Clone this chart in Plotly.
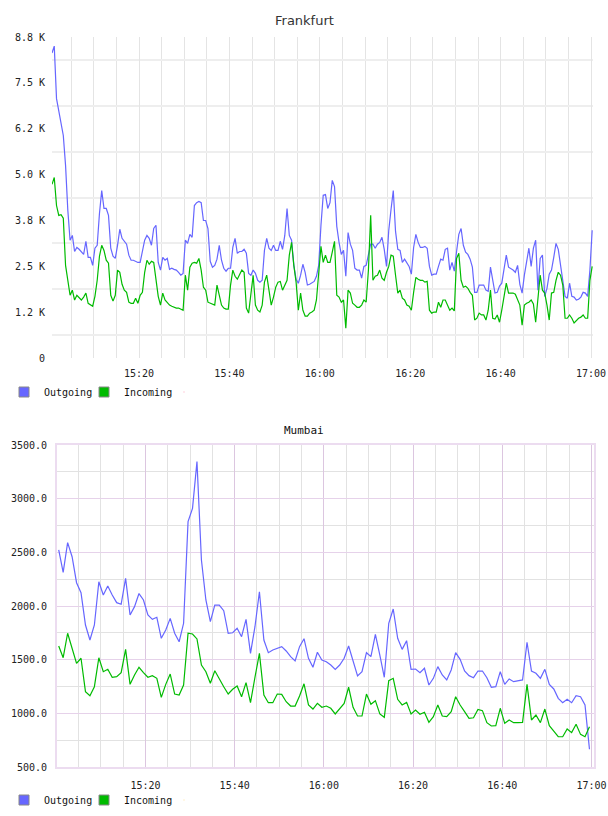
import pandas as pd
import plotly.graph_objects as go

# ---------------- data ----------------
# Frankfurt: 30-second samples
fra_times = pd.date_range("2024-01-01 15:00:45", periods=240, freq="30s")
fra_outgoing = [
    8360, 8550, 7110, 6780, 6450, 6100, 5280, 4050, 3230, 3360,
    2920, 3030, 2980, 2900, 2840, 3200, 2760, 2760, 2540, 3010,
    3090, 3960, 4590, 4100, 4100, 3910, 3010, 2790, 2730, 3090,
    3530, 3280, 3200, 3120, 2820, 2680, 2680, 2650, 2620, 2620,
    2900, 3230, 3360, 3280, 3090, 3550, 3640, 2620, 2410, 2760,
    2680, 2730, 2430, 2460, 2430, 2410, 2350, 2270, 2320, 3230,
    3140, 3390, 3310, 4180, 4260, 4290, 4260, 3770, 3770, 3550,
    2650, 2490, 2540, 2710, 3090, 2680, 2460, 2380, 2460, 2460,
    3030, 3280, 2870, 2920, 2920, 2980, 2870, 2320, 2270, 2410,
    2320, 2130, 2080, 2130, 2950, 3280, 3010, 2950, 3090, 2950,
    2950, 3200, 2980, 3360, 4100, 3360, 3230, 2540, 2160, 2050,
    2270, 2570, 2350, 2000, 2020, 2050, 2100, 2240, 2540, 3640,
    4460, 4480, 4100, 4260, 4870, 4700, 3610, 3170, 2840, 2950,
    2240, 3440, 3120, 2950, 2460, 2410, 2410, 2190, 2510, 2540,
    2840, 3120, 3120, 3010, 3120, 3170, 3310, 2980, 2510, 3500,
    4070, 4590, 3470, 2980, 2950, 2620, 2710, 2600, 2510, 2300,
    3030, 3390, 3170, 3030, 3030, 3060, 3010, 2510, 2270, 2300,
    2300, 2510, 2710, 2680, 2980, 3010, 2410, 2620, 2380, 2920,
    3390, 3550, 3090, 2900, 2840, 2710, 2490, 1800, 1800, 2000,
    2000, 2000, 1860, 1830, 2490, 2080, 1780, 1800, 1970, 2050,
    2510, 2820, 2490, 2460, 2410, 2350, 2540, 2020, 1780, 2270,
    2620, 3010, 2510, 3010, 3230, 1860, 2730, 2820, 1690, 1910,
    2300, 2410, 2760, 3140, 2980, 2570, 2190, 1690, 1640, 2050,
    1690, 1670, 1590, 1610, 1670, 1800, 1780, 1690, 2410, 3500,
]
fra_incoming = [
    4760, 4950, 4180, 3910, 3930, 3830, 2540, 2050, 1720, 1860,
    1590, 1720, 1640, 1590, 1670, 1780, 1500, 1450, 1420, 1690,
    2130, 2790, 3090, 2950, 2680, 2600, 1720, 1560, 1720, 2410,
    2350, 2020, 1860, 1800, 1530, 1500, 1500, 1640, 1500, 1720,
    1800, 2350, 2680, 2570, 2650, 2620, 2080, 1690, 1450, 1780,
    1590, 1530, 1450, 1420, 1390, 1370, 1370, 1340, 1310, 2270,
    1860, 2490, 2600, 2620, 2600, 2730, 2410, 1940, 1860, 1530,
    1500, 1480, 1450, 2000, 1720, 1450, 1370, 1340, 1340, 2000,
    2410, 2240, 2160, 2300, 2410, 2350, 1370, 1230, 1750, 2270,
    1450, 1310, 1260, 1450, 2080, 2270, 1860, 1450, 1670, 1940,
    2080, 2100, 1860, 2020, 2130, 2820, 3170, 2540, 2080, 1310,
    1780, 1310, 1150, 1150, 1230, 1260, 1310, 1590, 2410, 3060,
    2620, 2820, 2620, 2620, 2900, 3200, 1720, 1670, 1530, 1590,
    820, 1860, 1780, 1500, 1450, 1390, 1390, 1450, 1590, 1530,
    2410, 3910, 2130, 2240, 2270, 2410, 2190, 2130, 2350, 2510,
    2820, 2790, 2270, 1780, 1860, 1640, 1590, 1450, 1420, 1310,
    1800, 2210, 2160, 2130, 2130, 2080, 2100, 1310, 1230, 1260,
    1260, 1530, 1390, 1590, 1590, 1450, 1310, 1370, 1290, 2730,
    2870, 2130, 1940, 1970, 1910, 1800, 1720, 1040, 1090, 1230,
    1180, 1180, 1040, 1310, 1860, 1090, 1070, 1180, 980, 1310,
    1690, 2050, 1780, 1780, 1780, 1750, 1590, 1450, 900, 1450,
    1500, 1530, 1590, 1480, 980, 1720, 2270, 1860, 1780, 1450,
    1040, 1780, 1800, 2130, 2350, 2270, 2000, 1090, 1090, 1180,
    1090, 960, 1040, 1090, 1120, 1180, 1090, 1090, 2130, 2510,
]
fra_ytick_vals = [0, 1257, 2514, 3771, 5029, 6286, 7543, 8800]
fra_ytick_text = ["0", "1.2 K", "2.5 K", "3.8 K", "5.0 K", "6.2 K", "7.5 K", "8.8 K"]
fra_ygrid_vals = [629, 1886, 3143, 4400, 5657, 6914, 8171]

# Mumbai: 1-minute samples
mum_times = pd.date_range("2024-01-01 15:00:33", periods=120, freq="60s")
mum_outgoing = [
    2522, 2314, 2590, 2459, 2217, 2124, 1823, 1683, 1823, 2226,
    2103, 2186, 2103, 2031, 2016, 2258, 1916, 1994, 2116, 2056,
    1916, 1876, 1895, 1699, 1776, 1885, 1746, 1667, 1839, 2786,
    2910, 3345, 2429, 2056, 1854, 2009, 2009, 1956, 1746, 1751,
    1792, 1714, 1876, 1559, 1807, 2133, 1683, 1565, 1590, 1606,
    1621, 1581, 1528, 1488, 1621, 1695, 1513, 1429, 1569, 1497,
    1481, 1450, 1410, 1450, 1513, 1627, 1481, 1348, 1388, 1565,
    1528, 1736, 1543, 1336, 1839, 1972, 1699, 1596, 1677, 1410,
    1413, 1379, 1420, 1264, 1326, 1435, 1357, 1311, 1404, 1565,
    1503, 1394, 1351, 1332, 1394, 1394, 1332, 1243, 1249, 1388,
    1270, 1320, 1295, 1301, 1311, 1662, 1394, 1373, 1326, 1410,
    1270, 1227, 1140, 1099, 1131, 1099, 1164, 1155, 1078, 665,
]
mum_incoming = [
    1627, 1518, 1746, 1606, 1466, 1513, 1202, 1164, 1248, 1518,
    1388, 1410, 1336, 1342, 1379, 1596, 1270, 1357, 1429, 1379,
    1336, 1351, 1326, 1149, 1270, 1366, 1180, 1171, 1264, 1746,
    1739, 1693, 1450, 1388, 1280, 1397, 1317, 1248, 1180, 1224,
    1255, 1155, 1286, 1099, 1336, 1559, 1171, 1099, 1099, 1180,
    1177, 1108, 1068, 1068, 1161, 1275, 1078, 1040, 1093, 1056,
    1068, 1047, 994, 1047, 1093, 1243, 1056, 975, 975, 1180,
    1084, 1118, 994, 963, 1304, 1326, 1131, 1078, 1102, 994,
    1031, 991, 1010, 916, 969, 1078, 975, 969, 1016, 1155,
    1078, 1016, 953, 959, 1037, 1025, 913, 882, 885, 1047,
    907, 938, 913, 913, 916, 1270, 938, 984, 913, 1040,
    885, 835, 782, 782, 854, 820, 898, 804, 782, 876,
]

series_names = ["Outgoing", "Incoming"]
series_colors = ["#6666ff", "#00bb00"]

# ---------------- figure ----------------
W, H = 608, 816
fig = go.Figure()

def line(x, y, color, xa, ya):
    return go.Scatter(x=x, y=y, mode="lines", line=dict(color=color, width=1.2),
                      xaxis=xa, yaxis=ya, showlegend=False, hoverinfo="skip")

fig.add_trace(line(fra_times, fra_outgoing, series_colors[0], "x", "y"))
fig.add_trace(line(fra_times, fra_incoming, series_colors[1], "x", "y"))
fig.add_trace(line(mum_times, mum_outgoing, series_colors[0], "x2", "y2"))
fig.add_trace(line(mum_times, mum_incoming, series_colors[1], "x2", "y2"))

# legend entries (square swatches) + an empty spacer entry
for lg, xa, ya in (("legend", "x", "y"), ("legend2", "x2", "y2")):
    for name, color in zip(series_names, series_colors):
        fig.add_trace(go.Scatter(
            x=[None], y=[None], mode="markers", name=name, legend=lg,
            xaxis=xa, yaxis=ya,
            marker=dict(symbol="square", size=10, color=color,
                        line=dict(color="#888888", width=1))))
    fig.add_trace(go.Scatter(
        x=[None], y=[None], mode="markers", name=" ", legend=lg,
        xaxis=xa, yaxis=ya, marker=dict(size=1, opacity=0)))

def px_x(p):
    return p / W

def px_y(p):
    return 1 - p / H

font_mono = "DejaVu Sans Mono"
TWENTY = 20 * 60 * 1000
FIVE = 5 * 60 * 1000

legend_common = dict(orientation="h", xanchor="left", yanchor="middle",
                     font=dict(family=font_mono, size=10, color="#111111"),
                     bgcolor="rgba(0,0,0,0)", itemclick=False, itemdoubleclick=False,
                     tracegroupgap=0, entrywidth=35, entrywidthmode="pixels")

fig.update_layout(
    width=W, height=H, autosize=False,
    margin=dict(l=0, r=0, t=0, b=0, pad=0, autoexpand=False),
    paper_bgcolor="white", plot_bgcolor="white",
    font=dict(family=font_mono, size=10, color="#222222"),
    xaxis=dict(
        domain=[px_x(52), px_x(593)], type="date",
        range=["2024-01-01 15:00:45", "2024-01-01 17:00:26"],
        tick0="2024-01-01 15:00:00", dtick=TWENTY, tickformat="%H:%M",
        showgrid=True, gridcolor="#e4e4e4", gridwidth=1,
        minor=dict(dtick=FIVE, tick0="2024-01-01 15:00:00", showgrid=True,
                   gridcolor="#e4e4e4", gridwidth=1),
        zeroline=False, showline=False, ticks="", ticklabelstandoff=8,
        anchor="y",
    ),
    yaxis=dict(
        domain=[px_y(358), px_y(37)], range=[0, 8800],
        tickmode="array", tickvals=fra_ytick_vals, ticktext=fra_ytick_text,
        showgrid=False, zeroline=False, showline=False, ticks="",
        ticklabelstandoff=6,
        minor=dict(tickmode="array", tickvals=fra_ygrid_vals, showgrid=True,
                   gridcolor="#eeeeee", gridwidth=2),
        anchor="x",
    ),
    xaxis2=dict(
        domain=[px_x(57), px_x(594)], type="date",
        range=["2024-01-01 15:00:10", "2024-01-01 17:00:34"],
        tick0="2024-01-01 15:00:00", dtick=TWENTY, tickformat="%H:%M",
        showgrid=True, gridcolor="#dcc6e0", gridwidth=1,
        minor=dict(dtick=FIVE, tick0="2024-01-01 15:00:00", showgrid=True,
                   gridcolor="#e2e2e2", gridwidth=1),
        zeroline=False, showline=True, mirror=True, linecolor="#ecdcf0",
        linewidth=2, ticks="", ticklabelstandoff=8,
        anchor="y2",
    ),
    yaxis2=dict(
        domain=[px_y(767), px_y(445)], range=[500, 3500],
        dtick=500, tick0=500, tickformat=".1f",
        showgrid=True, gridcolor="#e6d2ea", gridwidth=1,
        minor=dict(dtick=250, tick0=500, showgrid=True, gridcolor="#e2e2e2",
                   gridwidth=1),
        zeroline=False, showline=True, mirror=True, linecolor="#ecdcf0",
        linewidth=2, ticks="", ticklabelstandoff=6,
        anchor="x2",
    ),
    legend=dict(x=px_x(4), y=px_y(392), **legend_common),
    legend2=dict(x=px_x(4), y=px_y(800), **legend_common),
    annotations=[
        dict(text="Frankfurt", x=0.5, y=px_y(20), xref="paper", yref="paper",
             xanchor="center", yanchor="middle", showarrow=False,
             font=dict(family="DejaVu Sans", size=13, color="#333333")),
        dict(text="Mumbai", x=0.5, y=px_y(430), xref="paper", yref="paper",
             xanchor="center", yanchor="middle", showarrow=False,
             font=dict(family=font_mono, size=11, color="#111111")),
    ],
)

fig.write_html("out.html", config={"displayModeBar": False})
